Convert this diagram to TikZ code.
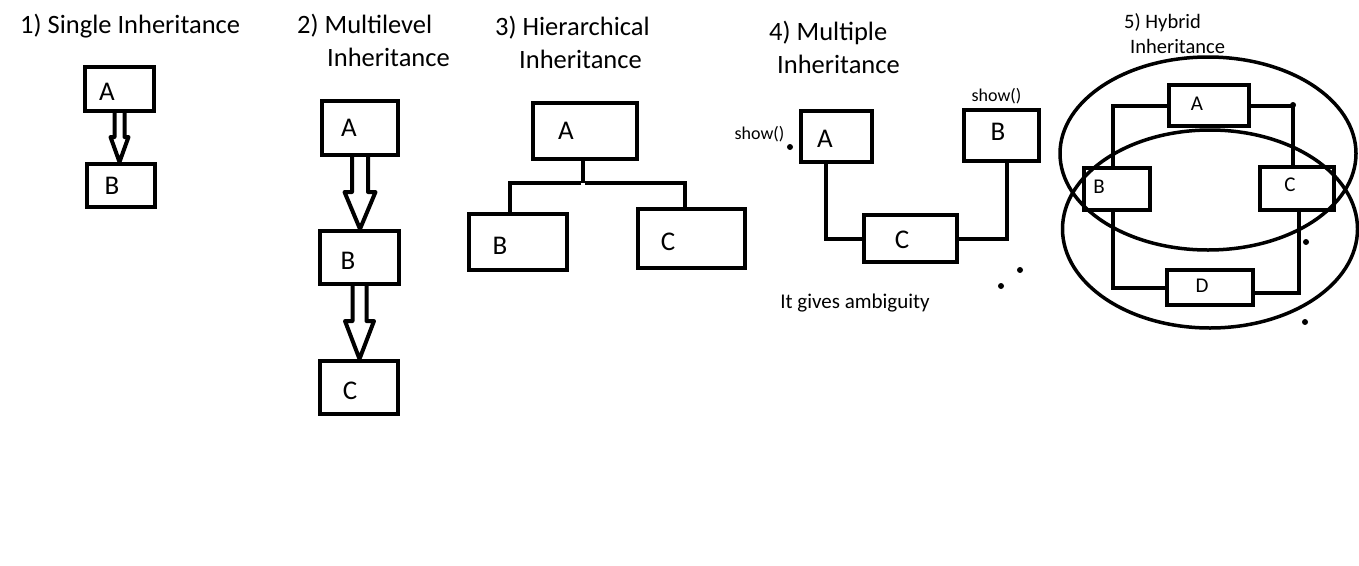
\documentclass[tikz,border=0pt]{standalone}
\usepackage{fontspec}
\setmainfont{Carlito}
\usetikzlibrary{calc}

\tikzset{
  heading/.style={font=\fontsize{26.5}{30}\selectfont, anchor=base west, inner sep=0},
  subheading/.style={font=\fontsize{20.5}{24}\selectfont, anchor=base west, inner sep=0},
  box/.style 2 args={draw, line width=4pt, inner sep=0, minimum width=#1, minimum height=#2},
  every label/.style={font=\fontsize{27}{30}\selectfont, inner sep=0},
  small label/.style={font=\fontsize{21}{24}\selectfont, inner sep=0},
  link/.style={line width=4pt},
  hollow/.style={line width=4pt, line join=round},
  note/.style={font=\fontsize{18}{20}\selectfont, inner sep=0},
  dot/.style={circle, fill, inner sep=0, minimum size=6pt}
}

\newcommand{\inharrow}[5]{%
  \draw[hollow] let \p1=(#1.south), \p2=(#2.north) in
    (\x1-#3pt,\y1) -- (\x1-#3pt,\y2+#5pt) -- (\x1-#4pt,\y2+#5pt) -- (\x1,\y2)
    -- (\x1+#4pt,\y2+#5pt) -- (\x1+#3pt,\y2+#5pt) -- (\x1+#3pt,\y1);}

\begin{document}
\begin{tikzpicture}[x=1pt, y=-1pt]
  \fill[white] (0,0) rectangle (1359,565);
  \useasboundingbox (0,0) rectangle (1359,565);

  % 1) single
  \node[heading] (t1) at (20,33) {1) Single Inheritance};
  \node[box={69}{44}, label={[xshift=-12.5pt, yshift=-3pt]center:A}] (sA) at (119.5,89) {};
  \node[box={68}{43}, label={[xshift=-9pt]center:B}] (sB) at (121,185.5) {};
  \inharrow{sA}{sB}{5}{9}{25}

  % 2) multilevel
  \node[heading] (t2) at (297,33) {2) Multilevel};
  \node[heading] (t2b) at (327,66) {Inheritance};
  \node[box={76}{54}, label={[xshift=-11pt]center:A}] (mA) at (360,128) {};
  \node[box={79}{53}, label={[xshift=-11.5pt, yshift=-3.5pt]center:B}] (mB) at (359.5,257.5) {};
  \node[box={78}{53}, label={[xshift=-9pt, yshift=-3.5pt]center:C}] (mC) at (359,387.5) {};
  \inharrow{mA}{mB}{8}{15.5}{37}
  \inharrow{mB}{mC}{7}{14.5}{38}

  % 3) hierarchical
  \node[heading] (t3) at (495,35) {3) Hierarchical};
  \node[heading] (t3b) at (519,68) {Inheritance};
  \node[box={104}{56}, label={[xshift=-19pt]center:A}] (hA) at (585,131) {};
  \node[box={98}{56}, label={[xshift=-18pt, yshift=-4pt]center:B}] (hB) at (518,242) {};
  \node[box={107}{59}, label={[xshift=-23.5pt, yshift=-3.5pt]center:C}] (hC) at (691.5,238.5) {};
  \coordinate (hj) at (583,183);
  \draw[link] (hA.south -| hj) -- (hj);
  \draw[link] ([xshift=-2pt]hj) -| ([xshift=-8pt]hB.north);
  \draw[link] ([xshift=2pt]hj) -| ([xshift=-6.5pt]hC.north);

  % 4) multiple
  \node[heading] (t4) at (769,40) {4) Multiple};
  \node[heading] (t4b) at (777,73) {Inheritance};
  \node[box={71}{51}, label={[xshift=-11.5pt, yshift=-2.5pt]center:A}] (xA) at (836.5,136.5) {};
  \node[box={75}{51}, label={[xshift=-3.5pt, yshift=3.5pt]center:B}] (xB) at (1001.5,135.5) {};
  \node[box={93}{47}, label={[xshift=-8.5pt, yshift=-1.5pt]center:C}] (xC) at (910.5,238.5) {};
  \draw[link] ([xshift=-10.5pt]xA.south) |- (xC.west);
  \draw[link] ([xshift=5.5pt]xB.south) |- (xC.east);
  \node[note] (showA) at (759.5,134) {show()};
  \node[note] (showB) at (996.5,96) {show()};
  \node[dot] (d1) at (790,147) {};
  \node[dot] (d2) at (1020,270) {};
  \node[dot] (d3) at (1001,286) {};
  \node[font=\fontsize{21}{24}\selectfont, inner sep=0] (amb) at (855,303) {It gives ambiguity};

  % 5) hybrid
  \node[subheading] (t5) at (1124,28) {5) Hybrid};
  \node[subheading] (t5b) at (1130,53) {Inheritance};
  \draw[line width=3.5pt] (1208,153.5) ellipse [x radius=148, y radius=96.5];
  \draw[line width=3.5pt] (1210,229) ellipse [x radius=147.5, y radius=99];
  \node[box={80}{41}, label={[small label, xshift=-12pt, yshift=1.5pt]center:A}] (yA) at (1209,105.5) {};
  \node[box={66}{42}, label={[small label, xshift=-18pt, yshift=2pt]center:B}] (yB) at (1117,189) {};
  \node[box={74}{43}, label={[small label, xshift=-7pt, yshift=3.5pt]center:C}] (yC) at (1297,188.5) {};
  \node[box={86}{35}, label={[small label, xshift=-8pt, yshift=1.5pt]center:D}] (yD) at (1210,287.5) {};
  \draw[link] (yA.west) -| ([xshift=-4pt]yB.north);
  \draw[link] (yA.east) -| ([xshift=-4pt]yC.north);
  \draw[link] ([xshift=-4pt]yB.south) |- (yD.west);
  \draw[link] ([yshift=-5.5pt]yD.east) -| ([xshift=2pt]yC.south);
  \node[dot] (d4) at (1293,105) {};
  \node[dot] (d5) at (1306,242) {};
  \node[dot] (d6) at (1305,322) {};
\end{tikzpicture}
\end{document}
